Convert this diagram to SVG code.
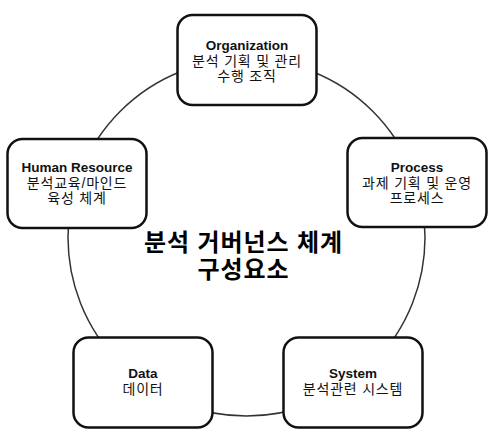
<svg xmlns="http://www.w3.org/2000/svg" width="492" height="433" viewBox="0 0 492 433">
<style>
.box{fill:#fff;stroke:#111;stroke-width:2.5}
.t{font-family:"Liberation Sans","Noto Sans CJK KR",sans-serif;font-size:14px;fill:#111;text-anchor:middle}
.b{font-weight:bold;font-size:13.5px}
.k{letter-spacing:0.8px}
.c{font-family:"Liberation Sans","Noto Sans CJK KR",sans-serif;font-size:24px;font-weight:bold;fill:#000;text-anchor:middle;letter-spacing:0.9px}
.conn{fill:none;stroke:#333;stroke-width:1.5}
</style>
<rect width="492" height="433" fill="#fff"/>
<g id="connectors">
<circle class="conn" cx="246.5" cy="237.5" r="178.5"/>
</g>
<g id="organization">
<rect class="box" x="177.5" y="15" width="139" height="90" rx="15"/>
<text class="t b" x="247" y="50">Organization</text>
<text class="t k" x="247" y="65.5">분석 기획 및 관리</text>
<text class="t k" x="247" y="81">수행 조직</text>
</g>
<g id="human-resource">
<rect class="box" x="7.5" y="139" width="139" height="89" rx="15"/>
<text class="t b" x="77" y="172">Human Resource</text>
<text class="t k" x="77" y="187.5">분석교육/마인드</text>
<text class="t k" x="77" y="203">육성 체계</text>
</g>
<g id="process">
<rect class="box" x="347.5" y="138" width="139" height="89" rx="15"/>
<text class="t b" x="417" y="172">Process</text>
<text class="t k" x="417" y="187.5">과제 기획 및 운영</text>
<text class="t k" x="417" y="203">프로세스</text>
</g>
<g id="data">
<rect class="box" x="73.5" y="337.5" width="139" height="90" rx="15"/>
<text class="t b" x="143" y="378">Data</text>
<text class="t k" x="143" y="394">데이터</text>
</g>
<g id="system">
<rect class="box" x="283.5" y="337.5" width="139" height="90" rx="15"/>
<text class="t b" x="353" y="378">System</text>
<text class="t k" x="353" y="394">분석관련 시스템</text>
</g>
<g id="center">
<text class="c" x="243.5" y="251">분석 거버넌스 체계</text>
<text class="c" x="243.5" y="277.5">구성요소</text>
</g>
</svg>
